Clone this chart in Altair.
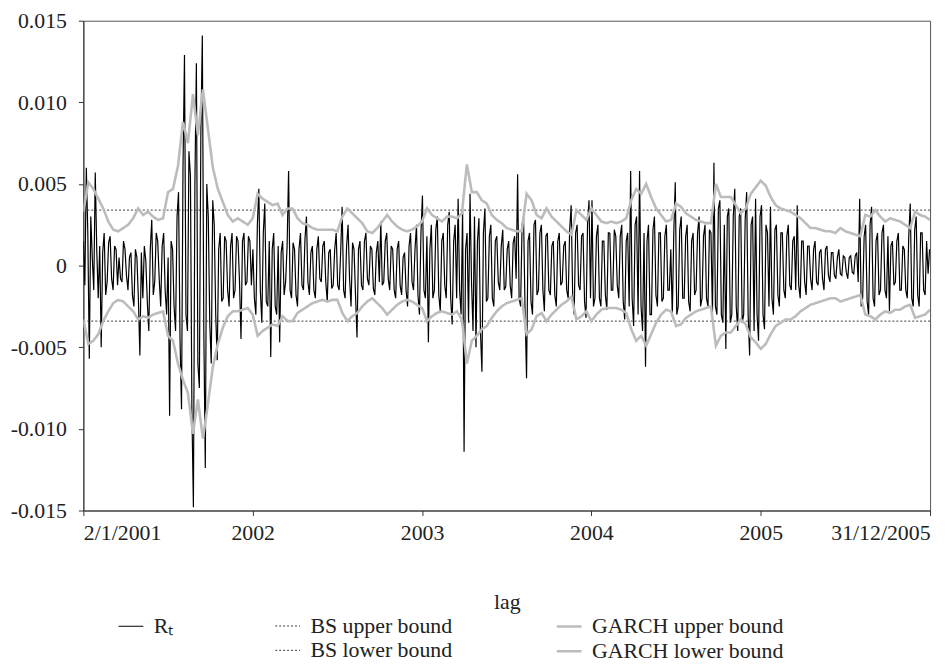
import altair as alt
import numpy as np
import pandas as pd

# Daily returns R_t (units of 1e-4).
# "*_a" values sit every 3 px, "*_b" values sit half-way between them.
rt_2001_a = [15, 60, -57, 5, 57, -20, -50, 20, -10, 18, -15, 10, 5, -10, 10, -15, 8, -25, 5, -55,
             -20, 3, -40, 28, -10, 15, -25, 20, -30, -92, 10, -40, 45, -88, 129, -40, 55, -148, 124, -75,
             141, -124, 30, -60, 25, -58, 20, -20, 15, -25, 20, -15, 15, -45, 20, -10, 15]
rt_2001_b = [-12, 20, 30, -15, 10, 12, 8, -18, 14, -8, 12, -12, -8, 15, -6, 5, -18, 10, -20, 8,
             12, -22, 10, -18, 20, -8, 12, -15, 5, 15, -25, 30, -45, 60, -30, 70, -90, 50, -60, 80,
             -40, 50, -35, 40, -30, 10, -22, 18, -15, 12, -20, 18, -10, 15, -12, 18, -12]
rt_2002_a = [10, -30, 47, -35, 38, -25, -56, 20, -30, -47, 15, -10, 58, -20, 10, -25, 20, -15, 30, -18,
             12, -20, 18, -10, 15, -22, 10, -12, 20, -15, 36, -20, 25, -25, 10, -44, 15, -15, 20, -12,
             10, -18, 15, 27, -10, 20, -15, 10, -20, 15, -18, 8, -25, 20, -15, 25, -30]
rt_2002_b = [-20, 25, -15, 20, -22, 15, 10, -25, 12, 8, -18, 12, -15, 14, -18, 10, -12, 16, -10, 8,
             -15, 10, -8, 12, -10, 8, -14, 10, -12, 8, -15, 12, -8, 14, -18, 10, -12, 15, -8, 12,
             -14, 8, -10, -12, 15, -8, 12, -15, 10, -12, 5, -15, 12, -10, 10, -18, 20]
rt_2003_a = [43, -20, -47, 25, -15, 30, -28, 20, -20, 33, -36, 25, 41, -30, -114, 20, 44, -40, -50, 29,
             -65, 35, -20, 25, -25, 18, -15, 22, -13, 15, -20, 18, 56, -25, 30, -69, 20, -30, 28, -15,
             25, -28, 20, -18, 15, -25, 20, -10, 15, -20, 37, -30, 25, -15, 20, -32, 40]
rt_2003_b = [-15, 18, 10, -20, 22, -18, 15, -12, 25, -20, 15, -20, -15, 35, 10, -35, -10, 30, 15, -40,
             20, -22, 18, -20, 15, -10, 12, -15, 10, -12, 14, -8, -20, 25, -28, 15, -22, 25, -18, 20,
             -15, 18, -15, 12, -18, 15, -12, 12, -15, 22, -18, 20, -12, 18, -22, 25, -20]
rt_2004_a = [40, -20, 25, -25, 15, -27, 20, -15, 18, -20, 25, -33, 20, 58, -37, 30, 58, -40, -62, 25,
             -30, 30, -25, 20, -20, 25, -15, -31, 51, -25, 30, -20, 25, -28, 20, -15, 30, -20, 25, -25,
             20, 63, -30, 40, -35, -51, 35, -30, 47, -40, 35, -30, 45, -55, 30, 41, -46]
rt_2004_b = [-25, 18, -20, 15, -18, 20, -15, 22, -12, 18, -22, 15, -25, -20, 25, -30, -25, 20, 15, -30,
             22, -18, 20, -22, 18, -15, 10, 20, -30, 22, -20, 18, -22, 15, -18, 20, -25, 18, -20, 22,
             -30, -25, 35, -30, 25, 30, -35, 30, -25, 30, -35, 28, -30, 25, -40, -30, 30]
rt_2005_a = [37, -39, 20, 36, -30, 25, -25, 20, -20, 25, -15, 18, 37, -20, 15, -18, 12, -15, 15, -12,
             10, -15, 12, -10, 8, -8, 10, -6, 5, -8, 6, -5, 8, 41, -20, 25, -30, 36, -25, 20,
             -15, 25, -20, -28, 15, -10, 20, -15, 10, -20, 38, -25, 30, -25, 20, -18, -5]
rt_2005_b = [-30, 25, -25, -20, 22, -18, 20, -15, 18, -12, 15, -15, -12, 15, -10, 12, -8, 10, -10, 8,
             -8, 10, -6, 8, -6, 5, -5, 6, -4, 5, -4, 6, -10, -25, 18, -22, 25, -20, 15, -18,
             20, -15, 18, 12, -12, 15, -15, 12, -15, 18, -20, 22, -18, 20, -15, 15, 10]

# GARCH bounds (units of 1e-4), one value per ~5 px
garch_upper = [33, 51, 47, 41, 35, 27, 22, 21, 23, 25, 29, 35, 31, 33, 30, 28, 29, 45, 47, 61,
               88, 75, 105, 80, 108, 84, 60, 47, 39, 31, 27, 29, 27, 25, 29, 44, 41, 39, 37, 38,
               31, 35, 35, 29, 26, 25, 23, 22, 22, 22, 22, 21, 30, 35, 32, 29, 26, 21, 20, 23,
               27, 31, 27, 24, 22, 21, 22, 24, 27, 35, 31, 29, 27, 30, 30, 29, 32, 62, 45, 45,
               40, 38, 31, 28, 26, 23, 22, 21, 21, 44, 40, 31, 29, 35, 30, 27, 24, 21, 19, 34,
               31, 28, 35, 31, 27, 26, 27, 26, 27, 29, 40, 47, 44, 50, 42, 35, 31, 27, 28, 38,
               36, 32, 30, 28, 27, 26, 26, 50, 42, 42, 42, 37, 32, 35, 44, 48, 52, 49, 42, 37,
               35, 34, 33, 31, 29, 26, 23, 23, 22, 21, 21, 20, 23, 21, 20, 19, 18, 31, 30, 34,
               30, 27, 29, 28, 27, 25, 23, 33, 31, 30, 28]
garch_lower = [-33, -48, -46, -42, -34, -28, -23, -21, -22, -25, -28, -33, -31, -32, -30, -29, -28, -43, -46, -60,
               -70, -78, -103, -82, -106, -85, -62, -48, -38, -31, -28, -28, -27, -26, -30, -43, -40, -38, -36, -37,
               -31, -34, -34, -29, -27, -25, -23, -22, -21, -22, -21, -21, -29, -34, -31, -29, -25, -22, -20, -23,
               -26, -30, -27, -24, -22, -21, -22, -24, -26, -34, -31, -29, -28, -29, -30, -28, -33, -60, -46, -43,
               -39, -37, -32, -28, -25, -23, -22, -21, -20, -42, -39, -31, -29, -34, -30, -27, -24, -22, -19, -33,
               -31, -28, -34, -30, -27, -26, -26, -26, -27, -29, -39, -46, -43, -49, -42, -35, -30, -27, -28, -37,
               -36, -32, -30, -28, -27, -26, -25, -49, -43, -41, -41, -37, -33, -36, -44, -47, -51, -48, -42, -37,
               -35, -33, -33, -31, -28, -26, -24, -23, -22, -21, -20, -20, -22, -21, -20, -19, -18, -30, -31, -33,
               -30, -28, -29, -27, -27, -25, -24, -32, -31, -30, -27]

bs_upper = 0.0034
bs_lower = -0.0034

series_names = ["Rₜ", "BS upper bound", "GARCH upper bound", " ", "BS lower bound", "GARCH lower bound"]
series_colors = ["#000000", "#3a3a3a", "#bcbcbc", "rgba(0,0,0,0)", "#3a3a3a", "#bcbcbc"]
series_dash = [[1, 0], [2, 2], [1, 0], [1, 0], [2, 2], [1, 0]]
series_width = [1.2, 1, 2.6, 0, 1, 2.6]

year_ticks = [2001, 2002, 2003, 2004, 2005, 2006]
y_ticks = [-0.015, -0.010, -0.005, 0, 0.005, 0.010, 0.015]

# ---- build tables ----
rt_a = rt_2001_a + rt_2002_a + rt_2003_a + rt_2004_a + rt_2005_a
rt_b = rt_2001_b + rt_2002_b + rt_2003_b + rt_2004_b + rt_2005_b
rt = [v for pair in zip(rt_a, rt_b) for v in pair]
t_rt = 2001 + np.arange(len(rt)) * (1.5 / 170.8)
df_rt = pd.DataFrame({"t": t_rt, "v": np.array(rt) / 10000.0, "series": "Rₜ"})

t_g = np.linspace(2001, 2006, len(garch_upper))
df_g = pd.concat([
    pd.DataFrame({"t": t_g, "v": np.array(garch_upper) / 10000.0, "series": "GARCH upper bound"}),
    pd.DataFrame({"t": t_g, "v": np.array(garch_lower) / 10000.0, "series": "GARCH lower bound"}),
])
df_bs = pd.DataFrame({
    "t": [2001, 2006, 2001, 2006],
    "v": [bs_upper, bs_upper, bs_lower, bs_lower],
    "series": ["BS upper bound", "BS upper bound", "BS lower bound", "BS lower bound"],
})

FONT = "Liberation Serif"

legend = alt.Legend(
    title=None, orient="none", legendX=34, legendY=597, columns=3, direction="horizontal",
    symbolType="stroke", symbolSize=625, labelFont=FONT, labelFontSize=22, labelColor="#222",
    columnPadding=100, rowPadding=0, labelOffset=9, padding=0, labelLimit=0,
)

x_enc = alt.X(
    "t:Q",
    scale=alt.Scale(domain=[2001, 2006], nice=False, zero=False),
    axis=alt.Axis(
        title="lag", values=year_ticks, labelFlush=True,
        labelExpr="datum.value == 2001 ? '2/1/2001' : (datum.value == 2006 ? '31/12/2005' : format(datum.value, 'd'))",
        grid=False, tickSize=5, labelPadding=7, titlePadding=49,
    ),
)
y_enc = alt.Y(
    "v:Q",
    scale=alt.Scale(domain=[-0.015, 0.015], nice=False, zero=False),
    axis=alt.Axis(
        title=None, values=y_ticks, grid=False, tickSize=5, labelPadding=12,
        labelExpr="datum.value == 0 ? '0' : replace(replace(format(datum.value, '.3f'), '−', '-'), '\u2212', '-')",
    ),
)
color_enc = alt.Color("series:N", scale=alt.Scale(domain=series_names, range=series_colors), legend=legend)
dash_enc = alt.StrokeDash("series:N", scale=alt.Scale(domain=series_names, range=series_dash), legend=legend)
width_enc = alt.StrokeWidth("series:N", scale=alt.Scale(type="ordinal", domain=series_names, range=series_width), legend=legend)

def layer(df):
    return alt.Chart(df).mark_line(strokeCap="butt", strokeJoin="miter", clip=True).encode(
        x=x_enc, y=y_enc, color=color_enc, strokeDash=dash_enc, strokeWidth=width_enc,
        detail="series:N",
    )

chart = alt.layer(layer(df_rt), layer(df_bs), layer(df_g)).properties(
    width=854, height=494,
    background="white",
    autosize=alt.AutoSizeParams(type="none"),
    padding={"left": 76, "top": 10, "right": 9, "bottom": 153},
).configure_view(
    stroke="#555", strokeWidth=1
).configure_axis(
    labelFont=FONT, labelFontSize=22, labelColor="#222",
    titleFont=FONT, titleFontSize=22, titleFontWeight="normal", titleColor="#222",
    domainColor="#333", tickColor="#333", domainWidth=1, tickWidth=1,
)

chart.save("out.html", embed_options={"renderer": "svg", "actions": False})
